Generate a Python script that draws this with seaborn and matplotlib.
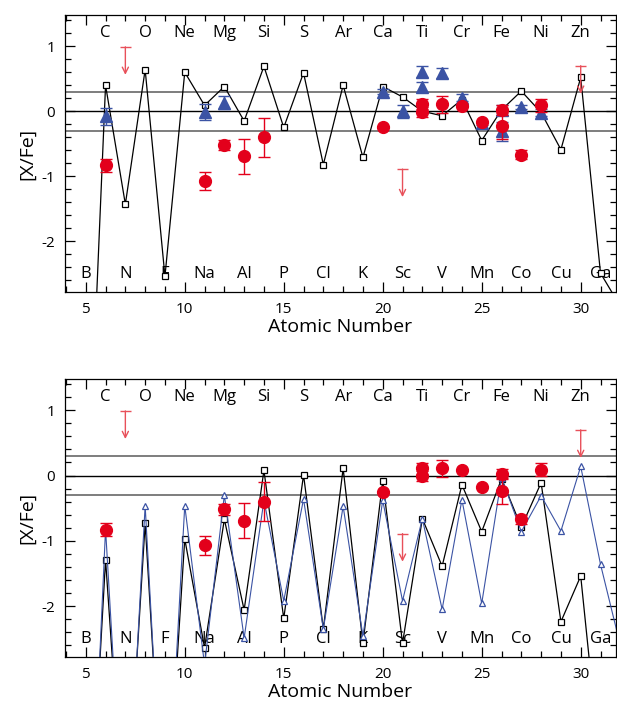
import numpy as np
import seaborn as sns
import matplotlib.pyplot as plt

# atomic numbers 5 (B) .. 32 (Ge) used by the model curves
z_model = list(range(5, 33))
elements = ['B', 'C', 'N', 'O', 'F', 'Ne', 'Na', 'Mg', 'Al', 'Si', 'P', 'S', 'Cl', 'Ar',
            'K', 'Ca', 'Sc', 'Ti', 'V', 'Cr', 'Mn', 'Fe', 'Co', 'Ni', 'Cu', 'Zn', 'Ga']

# top panel model (black squares)
model_top = [-6.8, 0.40, -1.43, 0.64, -2.54, 0.60, 0.09, 0.38, -0.15, 0.69, -0.25, 0.59,
             -0.82, 0.40, -0.71, 0.38, 0.22, 0.00, -0.07, 0.18, -0.45, 0.02, 0.31, -0.02,
             -0.59, 0.52, -2.49, -3.0]
# bottom panel models (black squares, blue open triangles)
model_bot_a = [-6.7, -1.29, -5.7, -0.73, -5.8, -0.97, -2.64, -0.67, -2.06, 0.08, -2.19, 0.01,
               -2.35, 0.11, -2.57, -0.08, -2.57, -0.66, -1.39, -0.14, -0.86, -0.05, -0.79, -0.11,
               -2.24, -1.54, -4.5, -4.0]
model_bot_b = [-7.5, -0.82, -6.0, -0.46, -6.0, -0.46, -2.9, -0.30, -2.49, -0.38, -1.92, -0.36,
               -2.35, -0.47, -2.46, -0.38, -1.92, -0.66, -2.05, -0.37, -1.96, -0.03, -0.86, -0.31,
               -0.85, 0.14, -1.36, -2.6]

# observed abundances (red circles)
obs_z = [6, 11, 12, 13, 14, 20, 22, 22, 23, 24, 25, 26, 26, 27, 28]
obs_val = [-0.83, -1.07, -0.52, -0.69, -0.40, -0.25, 0.11, -0.01, 0.11, 0.08, -0.17, 0.02, -0.23, -0.67, 0.09]
obs_err = [0.10, 0.14, 0.08, 0.27, 0.30, 0.0, 0.08, 0.08, 0.13, 0.0, 0.0, 0.08, 0.20, 0.07, 0.10]

# second data set, top panel only (blue triangles)
tri_z = [6, 11, 12, 20, 21, 22, 22, 23, 24, 25, 26, 26, 27, 28]
tri_val = [-0.08, -0.01, 0.13, 0.30, 0.00, 0.61, 0.37, 0.59, 0.21, -0.18, 0.02, -0.31, 0.06, -0.02]
tri_err = [0.13, 0.12, 0.10, 0.04, 0.10, 0.08, 0.08, 0.08, 0.05, 0.03, 0.08, 0.14, 0.03, 0.05]

# upper limits
ul_z = [7, 21, 30]
ul_val = [0.99, -0.89, 0.70]

RED = '#e3001b'
RED_L = '#e8505a'
BLUE = '#3b53a4'

sns.set_style('ticks')
plt.rcParams['font.family'] = ['Open Sans', 'DejaVu Sans']
plt.rcParams['axes.unicode_minus'] = False
plt.rcParams['text.color'] = 'black'
plt.rcParams['axes.labelcolor'] = 'black'

fig = plt.figure(figsize=(6.17, 7.04), dpi=100)
ax_top = fig.add_axes([0.1053, 0.5852, 0.8930, 0.3935])
ax_bot = fig.add_axes([0.1053, 0.0668, 0.8930, 0.3949])


def setup(ax):
    ax.set_xlim(3.95, 31.78)
    ax.set_ylim(-2.78, 1.48)
    ax.set_xticks([5, 10, 15, 20, 25, 30])
    ax.set_xticks(range(4, 32), minor=True)
    ax.set_yticks([-2, -1, 0, 1])
    ax.set_yticks(np.arange(-2.6, 1.5, 0.2), minor=True)
    ax.tick_params(which='both', direction='in', top=True, right=True, colors='black',
                   labelsize=11, width=0.9)
    ax.tick_params(which='major', length=7, pad=7)
    ax.tick_params(which='minor', length=4)
    for s in ax.spines.values():
        s.set_linewidth(0.9)
        s.set_color('black')
    ax.axhline(0.3, color='#5a5a5a', lw=1.1, zorder=1)
    ax.axhline(-0.3, color='#5a5a5a', lw=1.1, zorder=1)
    ax.axhline(0.0, color='black', lw=1.0, zorder=1)
    for i, el in enumerate(elements):
        z = z_model[i]
        y = 1.2 if z % 2 == 0 else -2.5
        ax.text(z, y, el, ha='center', va='center', fontsize=12, color='black', zorder=2)
    ax.set_xlabel('Atomic Number', fontsize=14, labelpad=1)
    ax.set_ylabel('[X/Fe]', fontsize=14, labelpad=4)


def model_line(ax, vals, color, marker, lw, ms, z):
    sns.lineplot(x=z_model, y=vals, ax=ax, color=color, lw=lw, marker=marker, ms=ms,
                 markerfacecolor='white', markeredgecolor=color, markeredgewidth=0.9,
                 sort=False, estimator=None, zorder=z, clip_on=True)


def observed(ax):
    ax.errorbar(obs_z, obs_val, yerr=obs_err, fmt='o', color=RED, ms=8.5, capsize=4,
                elinewidth=1.0, capthick=1.0, zorder=6)
    for z, v in zip(ul_z, ul_val):
        ax.annotate('', xy=(z, v - 0.43), xytext=(z, v),
                    arrowprops=dict(arrowstyle='->', color=RED_L, lw=1.0, mutation_scale=11,
                                    shrinkA=0, shrinkB=0), zorder=6)
    ax.hlines(ul_val, np.array(ul_z) - 0.28, np.array(ul_z) + 0.28, color=RED_L, lw=1.0, zorder=6)


setup(ax_top)
model_line(ax_top, model_top, 'black', 's', 0.9, 4.5, 3)
ax_top.errorbar(tri_z, tri_val, yerr=tri_err, fmt='^', color=BLUE, ms=8, capsize=4,
                elinewidth=1.0, capthick=1.0, zorder=4)
observed(ax_top)

setup(ax_bot)
model_line(ax_bot, model_bot_a, 'black', 's', 0.9, 4.5, 3)
model_line(ax_bot, model_bot_b, BLUE, '^', 0.8, 5, 4)
observed(ax_bot)

fig.savefig('out.png', dpi=100)
